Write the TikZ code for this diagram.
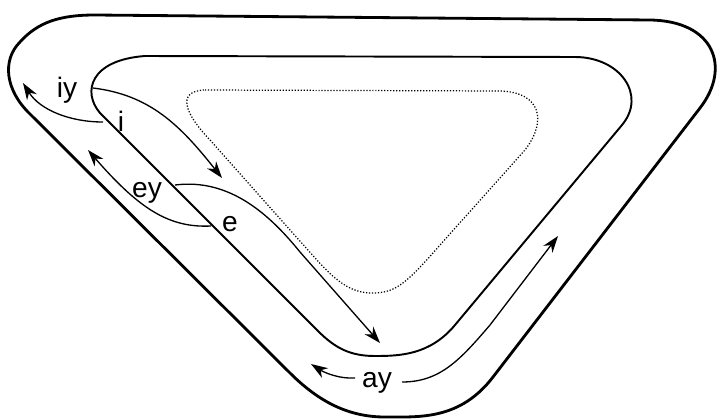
\documentclass[tikz,border=0pt]{standalone}
\usepackage{fontspec}
\setmainfont{Liberation Sans}
\usetikzlibrary{arrows.meta}
\begin{document}
\begin{tikzpicture}[x=0.02cm,y=-0.02cm,
  outerline/.style={line width=1.6pt, line join=round},
  innerline/.style={line width=1.1pt, line join=round},
  arr/.style={line width=0.75pt, -{Stealth[length=9.5pt,width=6.5pt,inset=3pt]}},
  dotline/.style={line width=0.7pt, densely dotted},
  lbl/.style={font=\fontsize{16}{16}\selectfont, anchor=base, inner sep=0pt}]
\useasboundingbox (0,0) rectangle (719,419);
% outer boundary
\draw[outerline] (95,15) -- (650,20) .. controls (715,21) and (731,68) .. (700,108)
  -- (493,377) .. controls (460,420) and (420,417) .. (385,417)
  .. controls (350,417) and (320,403) .. (290,373)
  -- (30,114) .. controls (5,90) and (2,60) .. (20,42)
  .. controls (38,22) and (60,15) .. cycle;
% inner boundary
\draw[innerline] (145,56) -- (575,57) .. controls (620,57) and (647,95) .. (622,125)
  -- (455,325) .. controls (430,355) and (400,356) .. (375,356)
  .. controls (350,356) and (335,348) .. (318,331)
  -- (100,113) .. controls (82,92) and (90,60) .. cycle;
% dotted region
\draw[dotline] (205,90) -- (500,91) .. controls (540,92) and (548,120) .. (525,150)
  -- (440,245) .. controls (405,285) and (395,293) .. (372,293)
  .. controls (350,293) and (335,280) .. (315,258)
  -- (210,140) .. controls (186,115) and (175,91) .. cycle;
% labels
\node[lbl] (iy) at (67,97) {iy};
\node[lbl] (i) at (121,131) {i};
\node[lbl] (ey) at (147,197) {ey};
\node[lbl] (e) at (230,231) {e};
\node[lbl] (ay) at (377,387) {ay};
% connector end points
\coordinate (pI) at (93,88);
\coordinate (pIt) at (222,178);
\coordinate (pIY) at (103,122);
\coordinate (pIYt) at (23,83);
\coordinate (pE) at (211,226);
\coordinate (pEt) at (88,150);
\coordinate (pEY) at (175,185);
\coordinate (pEYt) at (380,343);
\coordinate (pAL) at (355,378);
\coordinate (pALt) at (311,364);
\coordinate (pAR) at (402,382);
\coordinate (pARt) at (558,236);
% arrows
\draw[arr] (pI) .. controls (150,95) and (180,125) .. (pIt);
\draw[arr] (pIY) .. controls (70,122) and (40,110) .. (pIYt);
\draw[arr] (pE) .. controls (170,228) and (140,210) .. (pEt);
\draw[arr] (pEY) .. controls (230,178) and (270,215) .. (300,252) -- (pEYt);
\draw[arr] (pAL) .. controls (340,379) and (325,373) .. (pALt);
\draw[arr] (pAR) .. controls (440,382) and (460,360) .. (490,325) -- (pARt);
\end{tikzpicture}
\end{document}
